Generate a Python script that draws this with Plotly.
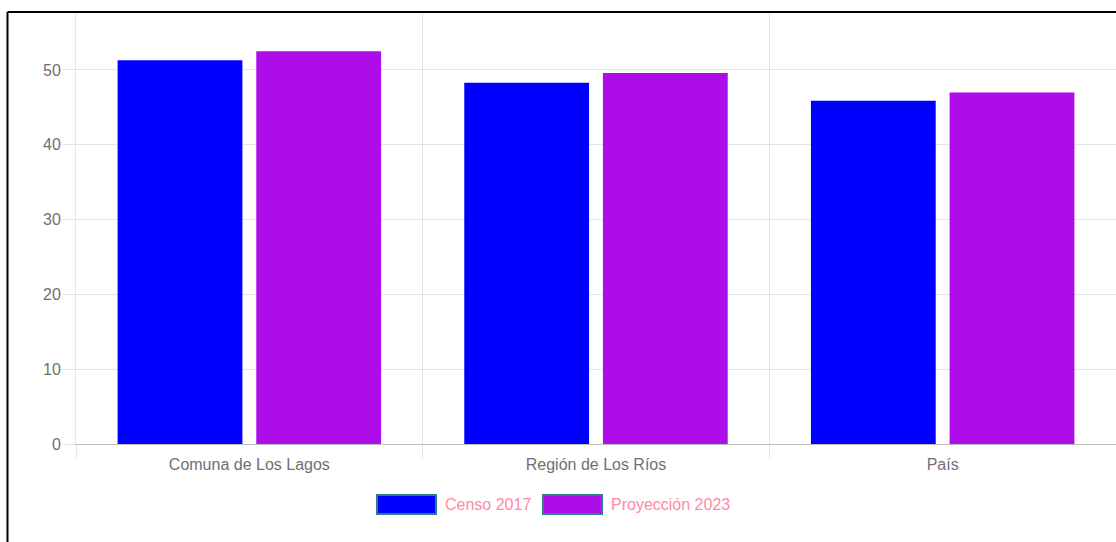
import plotly.graph_objects as go

categories = ["Comuna de Los Lagos", "Región de Los Ríos", "País"]
series_names = ["Censo 2017", "Proyección 2023"]
censo_2017 = [51.3, 48.3, 45.9]
proyeccion_2023 = [52.5, 49.6, 47.0]
colors = ["#0000ff", "#ad0de8"]

W, H = 1116, 542
ML, MR, MT, MB = 76, 0, 12, 98
PW, PH = W - ML - MR, H - MT - MB


def px(x):
    return (x - ML) / PW


def py(y):
    return (H - MB - y) / PH


fig = go.Figure()
for name, vals, col in zip(series_names, [censo_2017, proyeccion_2023], colors):
    fig.add_trace(go.Bar(x=categories, y=vals, name=name, marker=dict(color=col, line=dict(width=0)),
                         showlegend=False))

grid = "rgba(0,0,0,0.1)"
fig.update_layout(
    width=W, height=H,
    margin=dict(l=ML, r=MR, t=MT, b=MB, pad=0),
    paper_bgcolor="white", plot_bgcolor="white",
    barmode="group", bargap=0.2, bargroupgap=0.1,
    font=dict(family="Liberation Sans, Arial, sans-serif", size=16, color="#707070"),
    xaxis=dict(
        type="category", tickson="boundaries", showgrid=True, gridcolor=grid, gridwidth=1,
        ticks="outside", ticklen=14, tickcolor=grid, showline=True, linecolor="rgba(0,0,0,0.25)",
        linewidth=1, tickfont=dict(size=16, color="#707070"), zeroline=False,
        ticklabelstandoff=6,
    ),
    yaxis=dict(
        range=[0, 57.75], dtick=10, showgrid=True, gridcolor=grid, gridwidth=1,
        ticks="outside", ticklen=13, tickcolor=grid, showline=True, linecolor=grid,
        zeroline=False, tickfont=dict(size=16, color="#707070"), ticklabelstandoff=-2,
    ),
)

shapes = []
# outer border (left and top)
shapes.append(dict(type="line", xref="paper", yref="paper", x0=px(7.5), x1=px(1120), y0=py(12), y1=py(12),
                   line=dict(color="black", width=2)))
shapes.append(dict(type="line", xref="paper", yref="paper", x0=px(7.5), x1=px(7.5), y0=py(12), y1=py(545),
                   line=dict(color="black", width=2)))

# custom legend
legend_items = [(377, 436, 443), (543, 602, 609)]
annotations = []
for (bx0, bx1, tx), name, col in zip(legend_items, series_names, colors):
    shapes.append(dict(type="rect", xref="paper", yref="paper", x0=px(bx0), x1=px(bx1), y0=py(514), y1=py(495),
                       fillcolor=col, line=dict(color="#2e7d8c", width=2)))
    annotations.append(dict(xref="paper", yref="paper", x=px(tx), y=py(504.5), text=name, showarrow=False,
                            xanchor="left", yanchor="middle",
                            font=dict(size=16, color="#ff8aa2", family="Liberation Sans, Arial, sans-serif")))

fig.update_layout(shapes=shapes, annotations=annotations)
fig.write_html("out.html", config={"displayModeBar": False},
               post_script="document.body.style.margin='0';")
